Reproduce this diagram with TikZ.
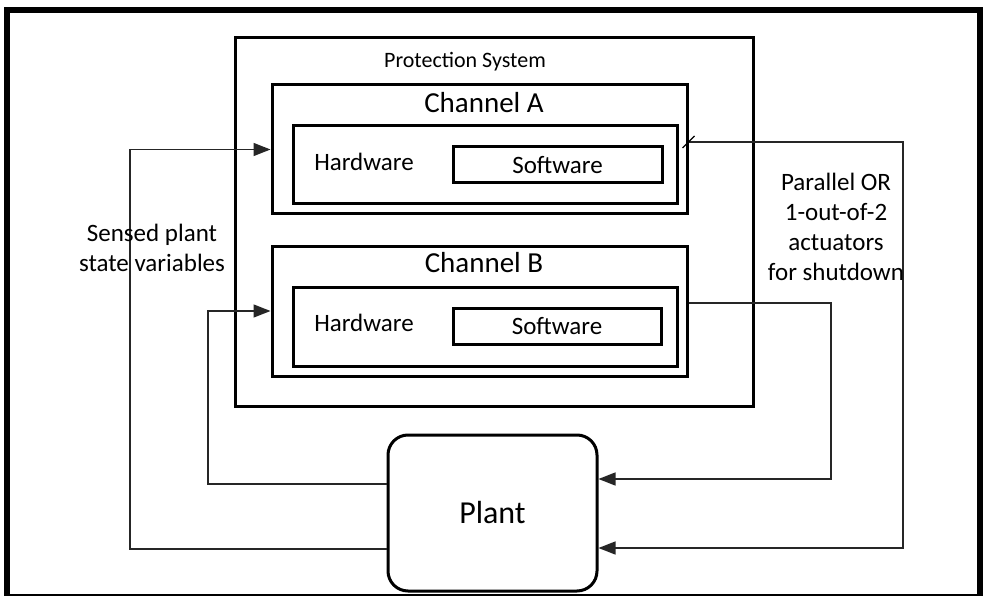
\documentclass[tikz,border=0pt]{standalone}
\usepackage{fontspec}
\setmainfont{Carlito}
\usetikzlibrary{arrows.meta,calc}

\tikzset{
  box/.style={draw=black, line width=3pt, rectangle, inner sep=0pt, anchor=center},
  flow/.style={draw=black!85, line width=1.4pt},
  tip/.style={-{Triangle[length=17pt,width=13pt]}},
  lbl/.style={inner sep=0pt, anchor=center},
  big/.style={font=\fontsize{29}{34}\selectfont},
  mid/.style={font=\fontsize{25}{30}\selectfont},
  small/.style={font=\fontsize{22}{26}\selectfont},
}

\begin{document}
\begin{tikzpicture}[x=1pt,y=-1pt]
  \useasboundingbox (0,0) rectangle (985,596);
  \fill[white] (0,0) rectangle (985,596);

  % outer frame
  \draw[line width=6pt] (7,596) -- (7,9.7) -- (980,9.7) -- (980,596);
  \draw[line width=2pt] (4,595) -- (983,595);

  % protection system and its two channels
  \node[box, minimum width=518pt, minimum height=368pt] (ps) at (494,222) {};
  \node[lbl, small] (pslbl) at (465,62) {Protection System};

  \node[box, minimum width=415pt, minimum height=129pt] (chA) at (479.5,149.5) {};
  \node[lbl, big] (chAlbl) at (484,103) {Channel A};
  \node[box, minimum width=384pt, minimum height=78pt] (hwA) at (485,165) {};
  \node[lbl, mid] (hwAlbl) at (364,162) {Hardware};
  \node[box, minimum width=209pt, minimum height=36pt, mid] (swA) at (557.5,165) {Software};

  \node[box, minimum width=415pt, minimum height=130pt] (chB) at (479.5,311) {};
  \node[lbl, big] (chBlbl) at (484,263) {Channel B};
  \node[box, minimum width=384pt, minimum height=79pt] (hwB) at (485,326.5) {};
  \node[lbl, mid] (hwBlbl) at (364,323) {Hardware};
  \node[box, minimum width=208pt, minimum height=36pt, mid] (swB) at (557,326) {Software};

  % plant
  \node[box, rounded corners=20pt, minimum width=209pt, minimum height=156pt,
        font=\fontsize{32}{38}\selectfont] (plant) at (492.5,513) {Plant};

  % bend points of the connectors
  \coordinate (sa) at (130,549);
  \coordinate (sb) at (208,484);
  \coordinate (oa) at (903,142);
  \coordinate (ob) at (831,303);
  \coordinate (pa) at (0,548);
  \coordinate (pb) at (0,479);

  % sensed plant state variables
  \draw[flow, tip] (plant.west |- sa) -- (sa) |- (chA.west);
  \draw[flow, tip] (plant.west |- sb) -- (sb) |- (chB.west);

  % shutdown actuators
  \draw[flow, tip] (chA.east |- oa) -- (oa) |- (plant.east |- pa);
  \draw[flow, tip] (chB.east |- ob) -- (ob) |- (plant.east |- pb);
  \draw[line width=1.2pt] ($(chA.east |- oa)+(-6,6)$) -- +(12,-12);

  % labels of the connectors
  \node[lbl, mid, align=center] (sensed) at (152,248) {Sensed plant\\state variables};
  \node[lbl, mid, align=center] (act) at (836,227) {Parallel OR\\1-out-of-2\\actuators\\for shutdown};
\end{tikzpicture}
\end{document}
